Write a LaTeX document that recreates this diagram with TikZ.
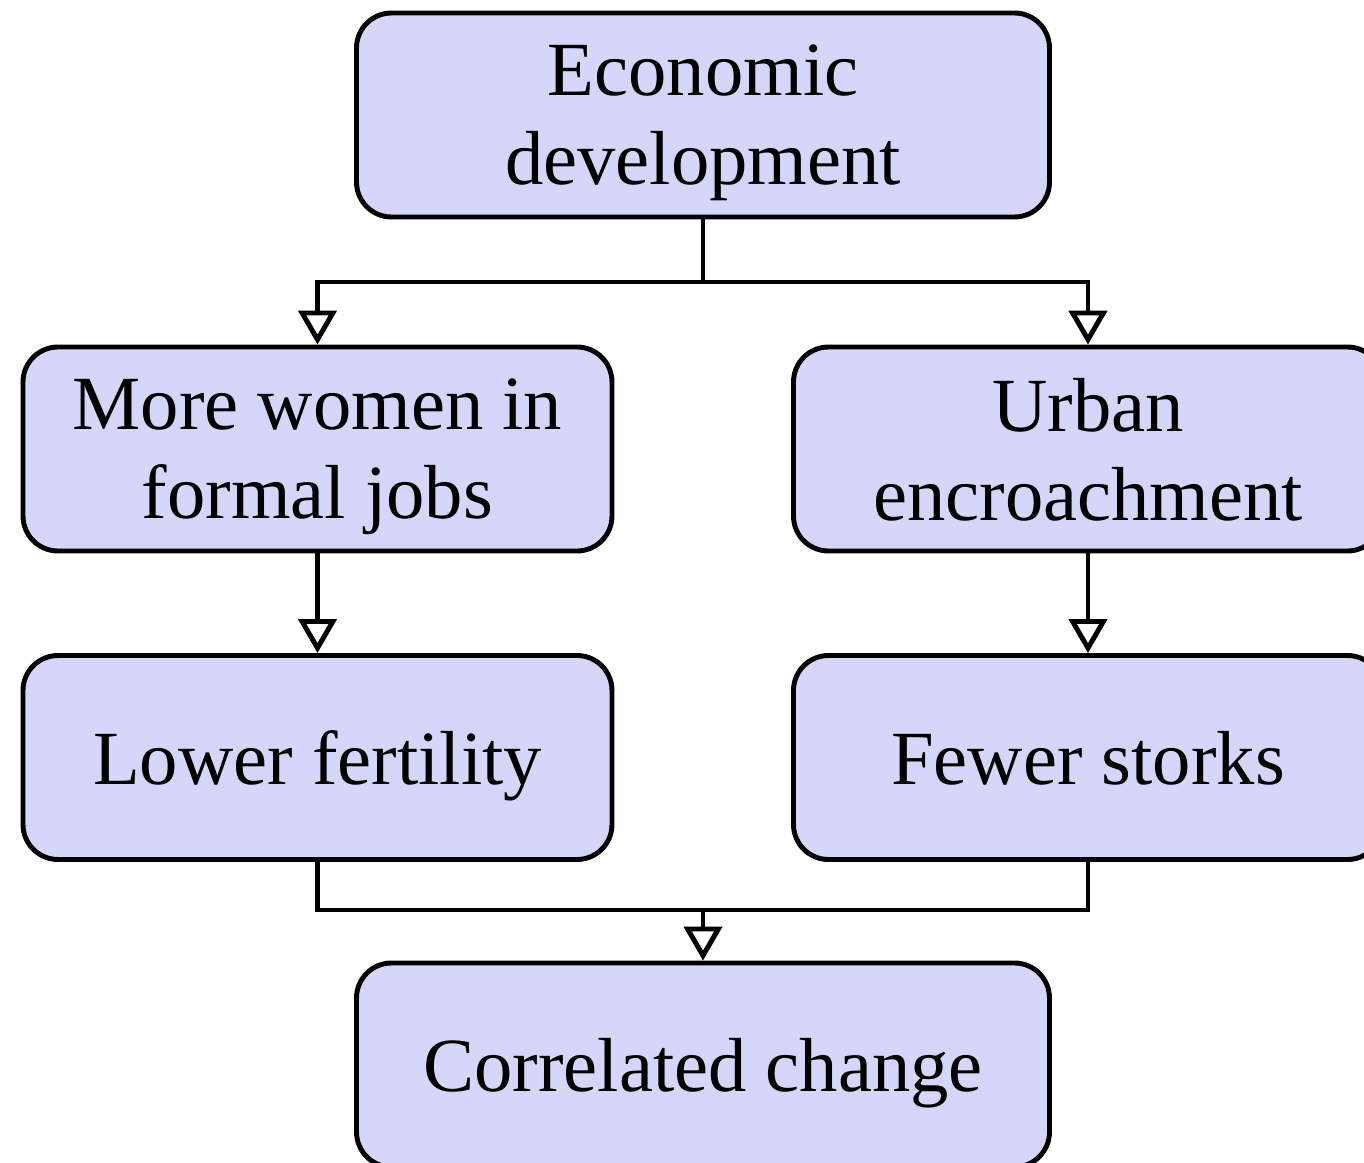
\documentclass[tikz,border=0pt]{standalone}
\usepackage{fontspec}
\setmainfont{Liberation Serif}
\usetikzlibrary{arrows.meta}

\begin{document}
\begin{tikzpicture}[
    box/.style={draw, line width=1.4pt, fill={rgb,255:red,214;green,214;blue,250},
        rounded corners=0.35cm, align=center, inner sep=0pt, text depth=0pt,
        minimum height=2.04cm, font=\fontsize{21.8}{25.3}\selectfont},
    widebox/.style={box, minimum width=6.93cm},
    sidebox/.style={box, minimum width=5.89cm},
    link/.style={line width=1.4pt, -{Triangle[open, length=0.34cm, width=0.38cm]}},
    plain/.style={line width=1.4pt}
    ]
    \useasboundingbox (0,0) rectangle (13.64,11.62);
    % boxes
    \node[widebox] (econ) at (7.03,10.47) {Economic\\development};
    \node[sidebox] (women) at (3.175,7.13) {More women in\\formal jobs};
    \node[sidebox] (urban) at (10.88,7.13) {Urban\\encroachment};
    \node[sidebox] (fert) at (3.175,4.045) {Lower fertility};
    \node[sidebox] (storks) at (10.88,4.045) {Fewer storks};
    \node[widebox] (corr) at (7.03,0.97) {Correlated change};
    % split and join points
    \coordinate (split) at (7.03,8.80);
    \coordinate (join) at (7.03,2.52);
    % connectors
    \draw[plain] (econ.south) -- (split);
    \draw[link] (split) -| (women.north);
    \draw[link] (split) -| (urban.north);
    \draw[link] (women.south) -- (fert.north);
    \draw[link] (urban.south) -- (storks.north);
    \draw[plain] (fert.south) |- (join);
    \draw[plain] (storks.south) |- (join);
    \draw[link] (join) -- (corr.north);
\end{tikzpicture}
\end{document}
